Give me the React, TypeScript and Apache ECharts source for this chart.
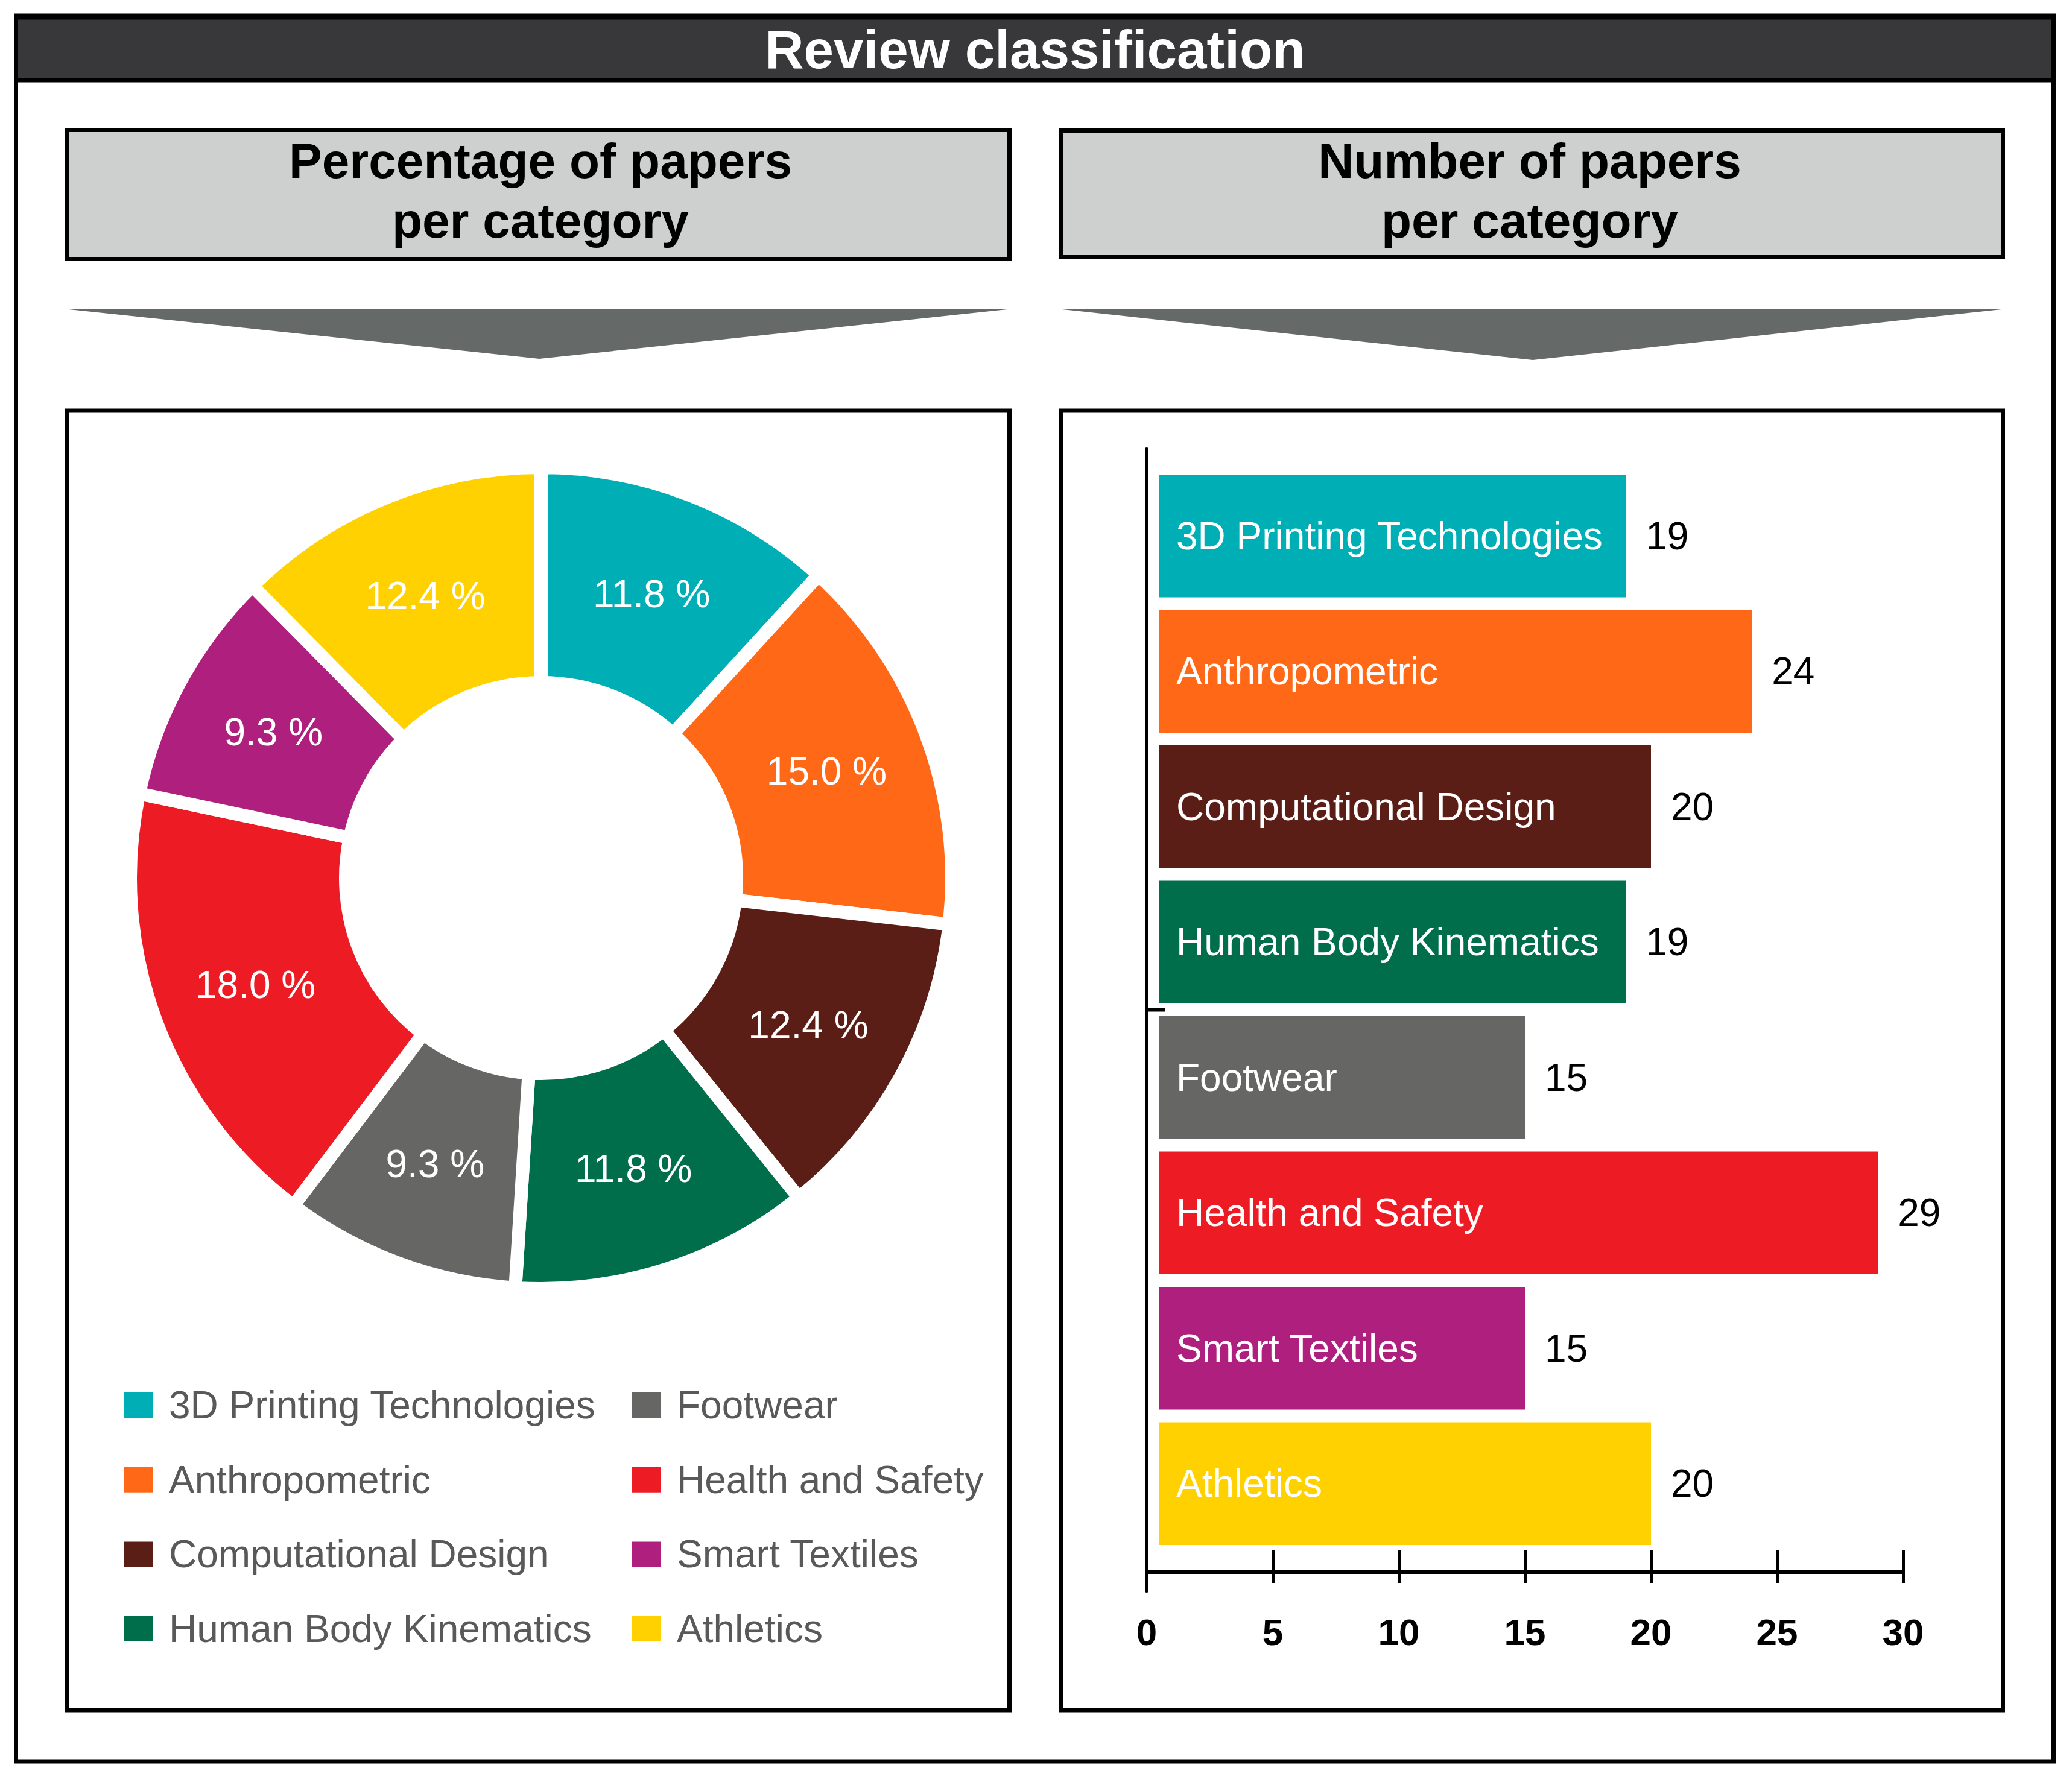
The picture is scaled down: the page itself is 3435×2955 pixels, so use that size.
import React, { useEffect, useRef } from "react";
import * as echarts from "echarts";

const categories = [
  "3D Printing Technologies",
  "Anthropometric",
  "Computational Design",
  "Human Body Kinematics",
  "Footwear",
  "Health and Safety",
  "Smart Textiles",
  "Athletics",
];
const percentages = [11.8, 15.0, 12.4, 11.8, 9.3, 18.0, 9.3, 12.4];
const paperCounts = [19, 24, 20, 19, 15, 29, 15, 20];
const colors = ["#00AFB6", "#FF6817", "#5B1E16", "#006E4B", "#666665", "#ED1C24", "#AE1F7E", "#FFD100"];
const xTicks = { min: 0, max: 30, interval: 5 };

const FONT = "'Liberation Sans', Arial, Helvetica, sans-serif";

export default function App() {
  const ref = useRef<HTMLDivElement>(null);
  useEffect(() => {
    if (!ref.current) return;
    const chart = echarts.init(ref.current, undefined, { renderer: "svg" });
    const bandRatio = 203.5 / 224.5;
    const midBoundary = categories.length / 2;
    const option: any = {
      animation: false,
      backgroundColor: "#ffffff",
      textStyle: { fontFamily: FONT },
      graphic: [
        { type: "rect", z: 0, shape: { x: 26.5, y: 26, width: 3378, height: 2895 }, style: { fill: "none", stroke: "#000", lineWidth: 7 } },
        { type: "rect", z: 0, shape: { x: 26.5, y: 29, width: 3378, height: 104 }, style: { fill: "#38373a", stroke: "#000", lineWidth: 7 } },
        { type: "text", z: 1, x: 1716, y: 82, style: { text: "Review classification", fill: "#fff", fontSize: 89, fontWeight: "bold", fontFamily: FONT, align: "center", verticalAlign: "middle" } },
        { type: "rect", z: 0, shape: { x: 111.5, y: 215.5, width: 1562, height: 214 }, style: { fill: "#cdd0cf", stroke: "#000", lineWidth: 7 } },
        { type: "rect", z: 0, shape: { x: 1758.5, y: 216.5, width: 1562, height: 210 }, style: { fill: "#cdd0cf", stroke: "#000", lineWidth: 7 } },
        { type: "text", z: 1, x: 896, y: 316, style: { text: "Percentage of papers\nper category", fill: "#000", fontSize: 82, lineHeight: 99, fontWeight: "bold", fontFamily: FONT, align: "center", verticalAlign: "middle" } },
        { type: "text", z: 1, x: 2536, y: 316, style: { text: "Number of papers\nper category", fill: "#000", fontSize: 82, lineHeight: 99, fontWeight: "bold", fontFamily: FONT, align: "center", verticalAlign: "middle" } },
        { type: "polygon", z: 0, shape: { points: [[114, 513], [1670, 513], [894, 595]] }, style: { fill: "#656a68" } },
        { type: "polygon", z: 0, shape: { points: [[1761, 513], [3318, 513], [2541, 597]] }, style: { fill: "#656a68" } },
        { type: "rect", z: 0, shape: { x: 111.5, y: 681, width: 1562, height: 2155 }, style: { fill: "none", stroke: "#000", lineWidth: 7 } },
        { type: "rect", z: 0, shape: { x: 1758.5, y: 681, width: 1562, height: 2155 }, style: { fill: "none", stroke: "#000", lineWidth: 7 } },
      ],
      legend: [
        {
          data: categories.slice(0, 4),
          orient: "vertical",
          left: 203,
          top: 2298,
          padding: 0,
          itemWidth: 51,
          itemHeight: 44,
          itemGap: 59.7,
          icon: "rect",
          selectedMode: false,
          textStyle: { fontSize: 64, lineHeight: 64, color: "#595959", fontFamily: FONT, padding: [0, 0, 0, 20] },
        },
        {
          data: categories.slice(4),
          orient: "vertical",
          left: 1045,
          top: 2298,
          padding: 0,
          itemWidth: 51,
          itemHeight: 44,
          itemGap: 59.7,
          icon: "rect",
          selectedMode: false,
          textStyle: { fontSize: 64, lineHeight: 64, color: "#595959", fontFamily: FONT, padding: [0, 0, 0, 20] },
        },
      ],
      grid: [
        { left: 1901, width: 1254, top: 776.5, height: 1796, containLabel: false },
        { left: 1901, width: 1254, top: 745, height: 1893, containLabel: false },
      ],
      xAxis: [
        { gridIndex: 0, type: "value", min: xTicks.min, max: xTicks.max, show: false },
        {
          gridIndex: 1,
          type: "value",
          min: xTicks.min,
          max: xTicks.max,
          interval: xTicks.interval,
          position: "bottom",
          offset: -31,
          axisLine: { show: true, lineStyle: { color: "#000", width: 6 } },
          axisTick: { show: true, inside: true, length: 36, lineStyle: { color: "#000", width: 5 } },
          axisLabel: { show: true, margin: 68, fontSize: 62, fontWeight: "bold", color: "#000", fontFamily: FONT },
          splitLine: { show: false },
        },
        {
          gridIndex: 1,
          type: "value",
          min: xTicks.min,
          max: xTicks.max,
          interval: xTicks.interval,
          position: "bottom",
          offset: -31,
          axisLine: { show: false },
          axisTick: { show: true, inside: false, length: 18, lineStyle: { color: "#000", width: 5 } },
          axisLabel: { show: false },
          splitLine: { show: false },
        },
      ],
      yAxis: [
        {
          gridIndex: 0,
          type: "category",
          data: categories,
          inverse: true,
          axisLine: { show: false },
          axisLabel: { show: false },
          axisTick: { show: false },
          splitLine: { show: false },
        },
        {
          gridIndex: 1,
          type: "value",
          min: 0,
          max: 1,
          axisLine: { show: true, lineStyle: { color: "#000", width: 6 } },
          axisTick: { show: false },
          axisLabel: { show: false },
          splitLine: { show: false },
        },
      ],
      series: [
        {
          type: "pie",
          center: [897, 1456],
          radius: [324, 681],
          startAngle: 90,
          clockwise: true,
          silent: true,
          data: categories.map((name, i) => ({ name, value: percentages[i], itemStyle: { color: colors[i] } })),
          itemStyle: { borderColor: "#ffffff", borderWidth: 22 },
          label: {
            show: true,
            position: "inside",
            formatter: (p: any) => `${Number(p.value).toFixed(1)} %`,
            color: "#ffffff",
            fontSize: 64,
            fontFamily: FONT,
          },
          labelLine: { show: false },
          emphasis: { disabled: true },
        },
        {
          type: "custom",
          xAxisIndex: 0,
          yAxisIndex: 0,
          silent: true,
          data: paperCounts.map((v, i) => [v, i]),
          encode: { x: 0, y: 1 },
          renderItem: (params: any, api: any) => {
            const idx = params.dataIndex;
            const val = api.value(0);
            const end = api.coord([val, idx]);
            const start = api.coord([0, idx]);
            const band = api.size([0, 1])[1];
            const h = band * bandRatio;
            const x0 = start[0] + 20;
            const children: any[] = [
              { type: "rect", shape: { x: x0, y: end[1] - h / 2, width: end[0] - x0, height: h }, style: { fill: colors[idx] } },
              { type: "text", style: { text: categories[idx], x: x0 + 29, y: end[1], fill: "#ffffff", fontSize: 64, fontFamily: FONT, align: "left", verticalAlign: "middle" } },
              { type: "text", style: { text: String(val), x: end[0] + 33, y: end[1], fill: "#000000", fontSize: 64, fontFamily: FONT, align: "left", verticalAlign: "middle" } },
            ];
            if (idx === midBoundary) {
              const yb = end[1] - band / 2;
              children.push({ type: "line", shape: { x1: start[0], y1: yb, x2: start[0] + 30, y2: yb }, style: { stroke: "#000", lineWidth: 6 } });
            }
            return { type: "group", children };
          },
        },
      ],
    };
    chart.setOption(option);
    return () => chart.dispose();
  }, []);
  return <div ref={ref} style={{ position: "absolute", left: 0, top: 0, width: 3435, height: 2955 }} />;
}
